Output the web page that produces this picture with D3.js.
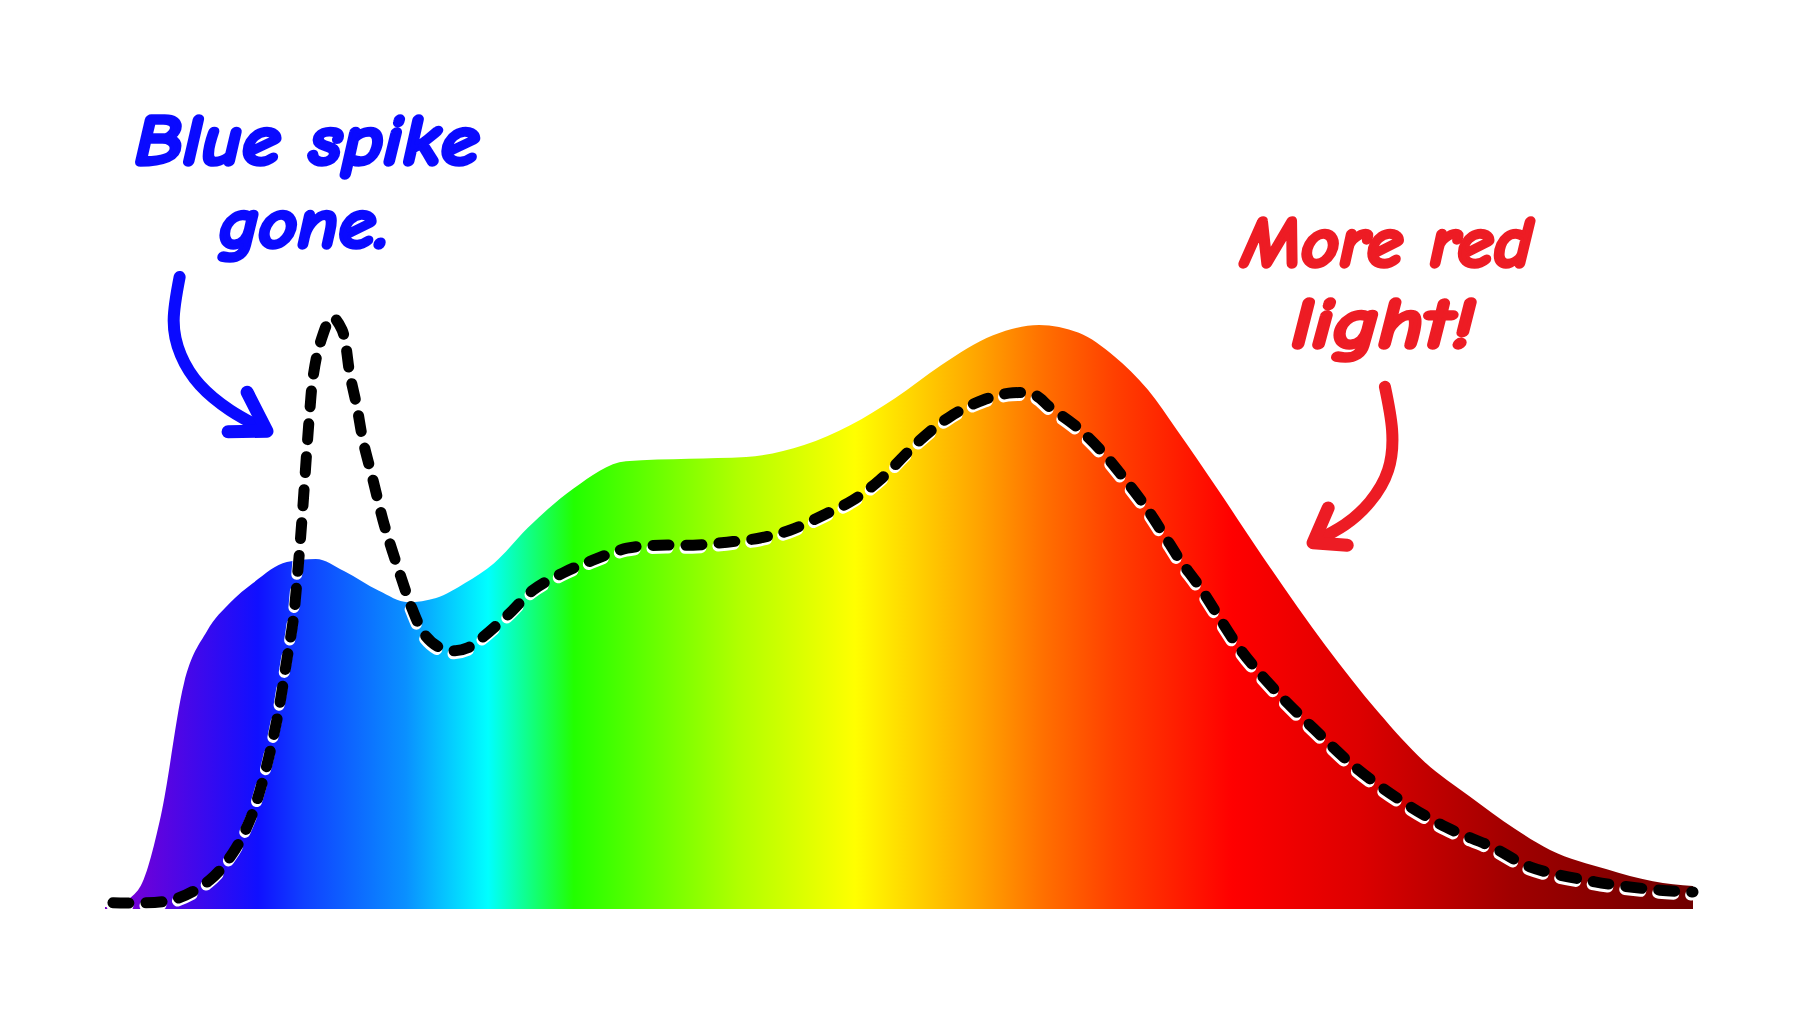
<!DOCTYPE html>
<html>
<head>
<meta charset="utf-8">
<script src="https://cdn.jsdelivr.net/npm/d3@7"></script>
<style>
  html, body { margin: 0; padding: 0; background: #ffffff; }
  svg { display: block; }
</style>
</head>
<body>
<svg id="chart" width="1800" height="1013"></svg>
<script>
// ---- data (wavelength in nm, relative intensity) ----
const areaWavelengths = [380, 381, 388.3, 394.1, 399.9, 405.7, 411.5, 417.3, 425.8, 433.1, 440.2, 449.0, 456.3, 463.4, 470.7, 478.0, 486.5, 498.1, 511.2, 527.1, 541.5, 556.1, 567.7, 579.0, 590.6, 603.7, 615.3, 625.3, 634.2, 642.7, 650.0, 660.1, 671.7, 687.5, 700.7, 712.2, 723.6, 735.2, 744.0, 758.3, 769.9, 780];
const areaValues      = [0, 0, 0.028, 0.153, 0.373, 0.46, 0.507, 0.54, 0.575, 0.58, 0.56, 0.527, 0.508, 0.515, 0.54, 0.573, 0.632, 0.698, 0.743, 0.747, 0.75, 0.77, 0.803, 0.848, 0.903, 0.953, 0.97, 0.957, 0.918, 0.862, 0.795, 0.698, 0.583, 0.435, 0.325, 0.243, 0.185, 0.13, 0.095, 0.063, 0.043, 0.035];

const lineWavelengths = [382.0, 397.1, 406.4, 412.2, 416.5, 419.8, 423.3, 425.8, 427.4, 428.6, 429.6, 430.9, 431.6, 432.4, 434.2, 437.2, 439.7, 441.7, 443.5, 445.0, 447.5, 450.0, 452.3, 454.8, 457.3, 460.6, 464.4, 468.2, 471.4, 475.2, 482.0, 487.8, 495.4, 502.9, 511.5, 519.8, 528.1, 536.7, 545.0, 552.5, 560.9, 568.4, 575.2, 585.3, 592.8, 601.2, 608.7, 614.3, 618.0, 624.8, 631.4, 636.4, 641.5, 646.5, 650.8, 655.8, 665.9, 674.5, 684.5, 694.9, 706.5, 717.8, 729.4, 738.9, 755.3, 771.7, 780];
const lineValues      = [0.007, 0.012, 0.045, 0.09, 0.145, 0.212, 0.312, 0.412, 0.478, 0.562, 0.645, 0.767, 0.828, 0.883, 0.94, 0.983, 0.962, 0.887, 0.832, 0.777, 0.712, 0.645, 0.595, 0.545, 0.498, 0.453, 0.432, 0.427, 0.432, 0.45, 0.49, 0.528, 0.557, 0.578, 0.598, 0.603, 0.603, 0.608, 0.615, 0.628, 0.653, 0.678, 0.712, 0.778, 0.817, 0.845, 0.857, 0.853, 0.833, 0.8, 0.757, 0.717, 0.673, 0.623, 0.578, 0.533, 0.43, 0.363, 0.297, 0.233, 0.177, 0.133, 0.1, 0.067, 0.042, 0.028, 0.025];

// gradient stops along wavelength
const gradientWavelengths = [380, 386.3, 418.5, 430.1, 455.8, 476.5, 498.1, 539.4, 568.9, 599.6, 616.3, 634.2, 663.9, 695.9, 734.4, 780];
const gradientColors = ["#7c00cc", "#7400d6", "#1010ff", "#1040ff", "#0a90ff", "#00ffff", "#22ff00", "#b0ff00", "#ffff00", "#ffa500", "#ff7000", "#ff4000", "#ff0000", "#dd0000", "#a00000", "#700000"];

// annotations (anchored in data units)
const blueLabelLines = ["Blue spike", "gone."];
const blueLabelAnchors = [[430.9, 1.237], [430.1, 1.098]];
const redLabelLines = ["More red", "light!"];
const redLabelAnchors = [[702.9, 1.067], [701.9, 0.932]];
const blueArrowShaft = [[398.8, 1.05], [397.3, 0.978], [399.1, 0.92], [403.9, 0.87], [411.5, 0.828], [419.5, 0.798]];
const blueArrowHead = [[415.8, 0.858], [420.8, 0.793], [411.0, 0.792]];
const redArrowShaft = [[702.4, 0.867], [704.2, 0.795], [703.2, 0.728], [698.6, 0.675], [692.3, 0.637], [685.0, 0.61]];
const redArrowHead = [[688.1, 0.665], [684.3, 0.607], [692.9, 0.603]];

// ---- drawing ----
const svg = d3.select("#chart");
const x = d3.scaleLinear().domain([380, 780]).range([105, 1693]);
const y = d3.scaleLinear().domain([0, 1]).range([907, 307]);

const defs = svg.append("defs");
const grad = defs.append("linearGradient")
  .attr("id", "spectrum")
  .attr("gradientUnits", "userSpaceOnUse")
  .attr("x1", x(380)).attr("x2", x(780)).attr("y1", 0).attr("y2", 0);
gradientWavelengths.forEach((w, i) => {
  grad.append("stop")
    .attr("offset", (w - 380) / 400)
    .attr("stop-color", gradientColors[i]);
});

const areaData = areaWavelengths.map((w, i) => ({ w, v: areaValues[i] }));
const lineData = lineWavelengths.map((w, i) => ({ w, v: lineValues[i] }));

const area = d3.area()
  .x(d => x(d.w))
  .y0(y(0) + 2)
  .y1(d => y(d.v))
  .curve(d3.curveMonotoneX);

svg.append("path")
  .datum(areaData)
  .attr("d", area)
  .attr("fill", "url(#spectrum)");

const line = d3.line()
  .x(d => x(d.w))
  .y(d => y(d.v))
  .curve(d3.curveCatmullRom.alpha(0.5));

// white shadow under dashes
svg.append("path")
  .datum(lineData)
  .attr("d", line)
  .attr("transform", "translate(-1,3)")
  .attr("fill", "none")
  .attr("stroke", "#ffffff")
  .attr("stroke-width", 11)
  .attr("stroke-linecap", "round")
  .attr("stroke-dasharray", "16 17");

svg.append("path")
  .datum(lineData)
  .attr("d", line)
  .attr("fill", "none")
  .attr("stroke", "#000000")
  .attr("stroke-width", 11)
  .attr("stroke-linecap", "round")
  .attr("stroke-dasharray", "16 17");

// arrows
const arrowLine = d3.line().x(d => x(d[0])).y(d => y(d[1])).curve(d3.curveNatural);
const headLine = d3.line().x(d => x(d[0])).y(d => y(d[1]));

function drawArrow(shaft, head, color) {
  svg.append("path")
    .attr("d", arrowLine(shaft))
    .attr("fill", "none")
    .attr("stroke", color)
    .attr("stroke-width", 12)
    .attr("stroke-linecap", "round");
  svg.append("path")
    .attr("d", headLine(head))
    .attr("fill", "none")
    .attr("stroke", color)
    .attr("stroke-width", 13)
    .attr("stroke-linecap", "round")
    .attr("stroke-linejoin", "round");
}
drawArrow(blueArrowShaft, blueArrowHead, "#0a0aff");
drawArrow(redArrowShaft, redArrowHead, "#ed1c24");

// labels
const fontFamily = "'Comic Sans MS', 'Comic Neue', 'Open Sans', sans-serif";
function drawLabel(lines, anchors, color, widths) {
  lines.forEach((t, i) => {
    svg.append("text")
      .attr("x", x(anchors[i][0]))
      .attr("y", y(anchors[i][1]))
      .attr("text-anchor", "middle")
      .attr("font-family", fontFamily)
      .attr("font-weight", 700)
      .attr("font-style", "italic")
      .attr("font-size", 72)
      .attr("fill", color)
      .attr("stroke", color)
      .attr("stroke-width", 3.5)
      .attr("stroke-linejoin", "round")
      .attr("textLength", widths[i])
      .attr("lengthAdjust", "spacingAndGlyphs")
      .text(t);
  });
}
drawLabel(blueLabelLines, blueLabelAnchors, "#0a0aff", [345, 170]);
drawLabel(redLabelLines, redLabelAnchors, "#ed1c24", [291, 183]);
</script>
</body>
</html>
